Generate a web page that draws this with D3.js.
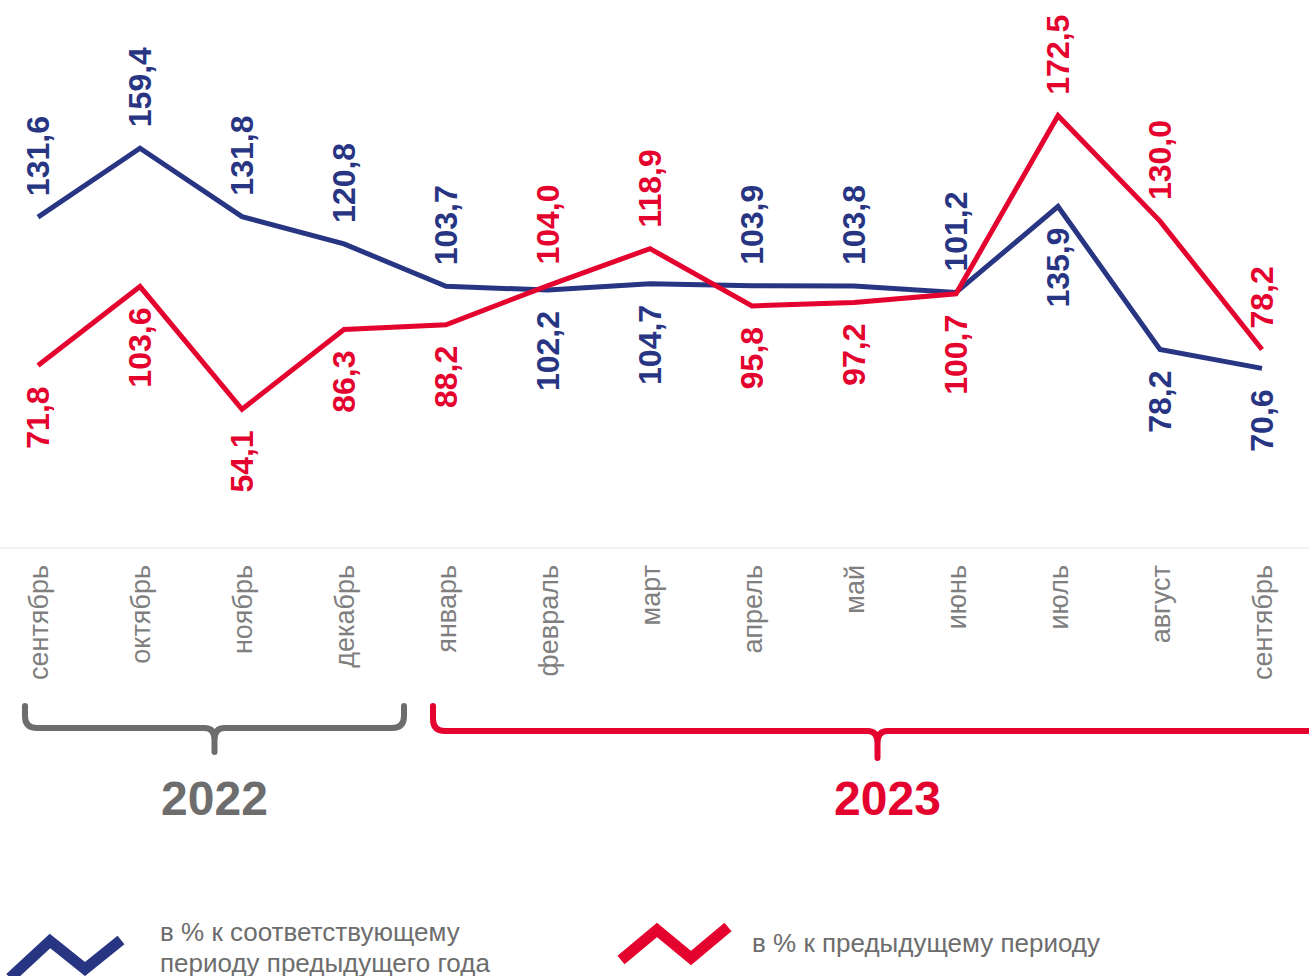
<!DOCTYPE html>
<html>
<head>
<meta charset="utf-8">
<script src="https://cdn.jsdelivr.net/npm/d3@7"></script>
<style>
  body { margin: 0; background: #fff; }
  svg { display: block; font-family: "Liberation Sans", Arial, sans-serif; }
</style>
</head>
<body>
<svg id="chart"></svg>
<script>
// months (two septembers, so points are keyed by index)
let months = ["сентябрь", "октябрь", "ноябрь", "декабрь", "январь", "февраль", "март",
              "апрель", "май", "июнь", "июль", "август", "сентябрь"];
// в % к соответствующему периоду предыдущего года
let yoy = [131.6, 159.4, 131.8, 120.8, 103.7, 102.2, 104.7, 103.9, 103.8, 101.2, 135.9, 78.2, 70.6];
// в % к предыдущему периоду
let mom = [71.8, 103.6, 54.1, 86.3, 88.2, 104.0, 118.9, 95.8, 97.2, 100.7, 172.5, 130.0, 78.2];
// which side of the line each value label sits on
let yoySide = ["up", "up", "up", "up", "up", "down", "down", "up", "up", "up", "down", "down", "down"];
let momSide = ["down", "down", "down", "down", "down", "up", "up", "down", "down", "down", "up", "up", "up"];
let years = [{ label: "2022", from: 0, to: 3 }, { label: "2023", from: 4, to: 12 }];
let legendLabels = [["в % к соответствующему", "периоду предыдущего года"], ["в % к предыдущему периоду"]];

let width = 1309, height = 976;
let blue = "#283583", red = "#e4032e", gray = "#6d6d6d", monthGray = "#7f7f7f";

let svg = d3.select("#chart").attr("width", width).attr("height", height);

let x = d3.scalePoint().domain(d3.range(months.length)).range([38, 1262]);
let y = d3.scaleLinear().domain([0, 200]).range([543.5, 47.5]);

// faint base line
svg.append("line")
    .attr("x1", 0).attr("x2", width)
    .attr("y1", 548).attr("y2", 548)
    .attr("stroke", "#f2f2f2").attr("stroke-width", 2);

// month labels through a bottom axis
let axis = svg.append("g")
    .attr("transform", "translate(0,565)")
    .call(d3.axisBottom(x).tickSize(0).tickFormat(i => months[i]));
axis.select(".domain").remove();
axis.selectAll("text")
    .attr("transform", "rotate(-90)")
    .attr("x", 0).attr("y", 0)
    .attr("dy", "0.35em")
    .attr("text-anchor", "end")
    .attr("fill", monthGray)
    .style("font-size", "27px")
    .style("font-family", "'Liberation Sans', Arial, sans-serif");

let line = d3.line().x((d, i) => x(i)).y(d => y(d));

let drawSeries = function(values, sides, color) {
    svg.append("path")
        .attr("d", line(values))
        .attr("fill", "none")
        .attr("stroke", color)
        .attr("stroke-width", 5)
        .attr("stroke-linejoin", "miter");

    let gap = 21;
    svg.append("g").selectAll("text")
        .data(values).enter().append("text")
        .attr("transform", (d, i) => {
            let yy = sides[i] === "up" ? y(d) - gap : y(d) + gap;
            return "translate(" + x(i) + "," + yy + ") rotate(-90)";
        })
        .attr("dy", "0.35em")
        .attr("text-anchor", (d, i) => sides[i] === "up" ? "start" : "end")
        .attr("fill", color)
        .style("font-size", "32px")
        .style("font-weight", "bold")
        .text(d => d3.format(".1f")(d).replace(".", ","));
};

drawSeries(yoy, yoySide, blue);
drawSeries(mom, momSide, red);

// year braces
let drawBrace = function(x0, x1, top, hy, tip, color) {
    let mid = (x0 + x1) / 2;
    let r = 12;
    let p = d3.path();
    p.moveTo(x0, top);
    p.lineTo(x0, hy - r);
    p.quadraticCurveTo(x0, hy, x0 + r, hy);
    p.lineTo(mid - 10, hy);
    p.quadraticCurveTo(mid, hy, mid, hy + 12);
    p.lineTo(mid, tip);
    p.moveTo(mid, hy + 12);
    p.quadraticCurveTo(mid, hy, mid + 10, hy);
    p.lineTo(x1 - r, hy);
    p.quadraticCurveTo(x1, hy, x1, hy - r);
    p.lineTo(x1, top);
    svg.append("path")
        .attr("d", p.toString())
        .attr("fill", "none")
        .attr("stroke", color)
        .attr("stroke-width", 6)
        .attr("stroke-linecap", "round");
    return mid;
};

let yearColors = [gray, red];
years.forEach((yr, k) => {
    let x0 = x(yr.from) - 13;
    let x1 = x(yr.to) + 60;
    let hy = k === 0 ? 728 : 731;
    let tip = k === 0 ? 752 : 758;
    let mid = drawBrace(x0, x1, 706, hy, tip, yearColors[k]);
    svg.append("text")
        .attr("x", mid + (k === 0 ? 0 : 10)).attr("y", 815)
        .attr("text-anchor", "middle")
        .attr("fill", yearColors[k])
        .style("font-size", "48px")
        .style("font-weight", "bold")
        .text(yr.label);
});

// legend
let legend = svg.append("g");
let icon = d3.line();
legend.append("path")
    .attr("d", icon([[10, 978], [50, 941], [85, 969], [121, 940]]))
    .attr("fill", "none").attr("stroke", blue).attr("stroke-width", 11);
legend.append("path")
    .attr("d", icon([[621, 960], [657, 930], [691, 958], [728, 927]]))
    .attr("fill", "none").attr("stroke", red).attr("stroke-width", 11);

legend.append("text")
    .attr("x", 160).attr("y", 941)
    .attr("fill", gray)
    .style("font-size", "26px")
    .selectAll("tspan").data(legendLabels[0]).enter().append("tspan")
    .attr("x", 160)
    .attr("dy", (d, i) => i === 0 ? 0 : 31)
    .text(d => d);
legend.append("text")
    .attr("x", 752).attr("y", 952)
    .attr("fill", gray)
    .style("font-size", "26px")
    .text(legendLabels[1][0]);
</script>
</body>
</html>
